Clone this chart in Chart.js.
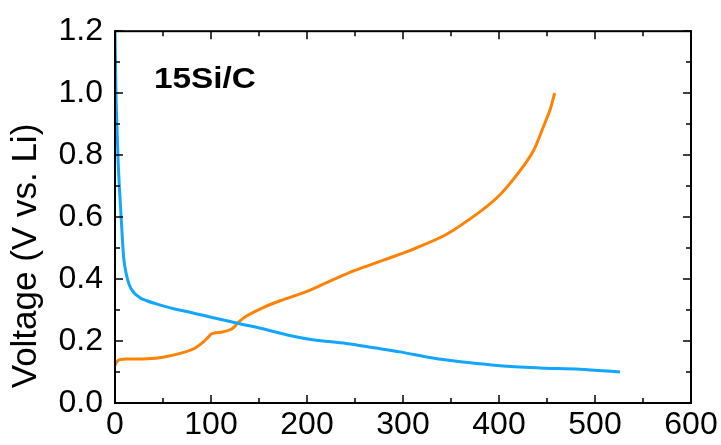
<!DOCTYPE html>
<html>
<head>
<meta charset="utf-8">
<script src="https://cdn.jsdelivr.net/npm/chart.js@4"></script>
<style>
   html, body { margin: 0; padding: 0; background: #fff; }
   #wrap { width: 721px; height: 445px; }
</style>
</head>
<body>
<div id="wrap"><canvas id="graph"></canvas></div>
<script>
// discharge curve (blue)
const dischargeCap = [0, 0.5, 1, 2, 3, 4.5, 6, 7.5, 9, 11.5, 15, 20, 26, 33, 43, 60, 78, 100, 130, 160, 182, 206, 241, 270, 297, 331, 360, 380, 401, 443, 484, 526];
const dischargeV = [1.2, 1.1, 1.0, 0.9, 0.8, 0.7, 0.62, 0.54, 0.47, 0.42, 0.38, 0.355, 0.34, 0.33, 0.32, 0.305, 0.293, 0.277, 0.256, 0.235, 0.218, 0.204, 0.192, 0.178, 0.165, 0.145, 0.133, 0.127, 0.12, 0.113, 0.109, 0.1];

// charge curve (orange)
const chargeCap = [0, 2, 5, 15, 33, 50, 68, 82, 92, 97, 101, 112, 121, 125, 129, 137, 155, 172, 200, 225, 250, 276, 300, 311, 345, 380, 401, 422, 436, 446, 453, 458];
const chargeV = [0.122, 0.133, 0.14, 0.142, 0.143, 0.148, 0.16, 0.175, 0.197, 0.212, 0.224, 0.229, 0.238, 0.248, 0.262, 0.281, 0.309, 0.33, 0.36, 0.395, 0.428, 0.457, 0.484, 0.497, 0.544, 0.617, 0.672, 0.75, 0.815, 0.89, 0.945, 1.0];

const xTicks = [0, 100, 200, 300, 400, 500, 600];
const yTicks = [0, 0.2, 0.4, 0.6, 0.8, 1.0, 1.2];
const yTitle = 'Voltage (V vs. Li)';
const sampleLabel = '15Si/C';

function toPoints(xs, ys) {
   return xs.map((x, i) => ({ x: x, y: ys[i] }));
}

// cadre + graduations vers l'interieur
const framePlugin = {
   id: 'frame',
   afterDatasetsDraw(chart) {
      const ctx = chart.ctx;
      const a = chart.chartArea;
      const sx = chart.scales.x;
      const sy = chart.scales.y;
      ctx.save();
      ctx.strokeStyle = '#000';
      ctx.lineWidth = 2;
      ctx.strokeRect(a.left, a.top, a.right - a.left, a.bottom - a.top);
      ctx.lineWidth = 1.5;
      ctx.beginPath();
      for (let v = 0; v <= 600; v += 50) {
         const px = Math.round(sx.getPixelForValue(v));
         const len = v % 100 === 0 ? 8 : 5;
         ctx.moveTo(px, a.bottom); ctx.lineTo(px, a.bottom - len);
         ctx.moveTo(px, a.top); ctx.lineTo(px, a.top + len);
      }
      for (let k = 0; k <= 12; k++) {
         const py = Math.round(sy.getPixelForValue(k / 10));
         const len = k % 2 === 0 ? 8 : 5;
         ctx.moveTo(a.left, py); ctx.lineTo(a.left + len, py);
         ctx.moveTo(a.right, py); ctx.lineTo(a.right - len, py);
      }
      ctx.stroke();

      // titre axe y
      ctx.fillStyle = '#000';
      ctx.font = '35px "Liberation Sans", Arial, sans-serif';
      ctx.textAlign = 'center';
      ctx.textBaseline = 'middle';
      ctx.translate(26, 256);
      ctx.rotate(-Math.PI / 2);
      ctx.fillText(yTitle, 0, 0);
      ctx.restore();

      // etiquette echantillon
      ctx.save();
      ctx.fillStyle = '#000';
      ctx.font = 'bold 29px "Liberation Sans", Arial, sans-serif';
      ctx.textAlign = 'left';
      ctx.textBaseline = 'alphabetic';
      ctx.translate(154, 88);
      ctx.scale(1.15, 1);
      ctx.fillText(sampleLabel, 0, 0);
      ctx.restore();
   }
};

const tickFont = { family: '"Liberation Sans", Arial, sans-serif', size: 32 };

new Chart(document.getElementById('graph'), {
   type: 'line',
   data: {
      datasets: [
         {
            label: 'discharge',
            data: toPoints(dischargeCap, dischargeV),
            borderColor: '#12a6ff',
            borderWidth: 3,
            pointRadius: 0,
            cubicInterpolationMode: 'monotone',
            fill: false
         },
         {
            label: 'charge',
            data: toPoints(chargeCap, chargeV),
            borderColor: '#ff8205',
            borderWidth: 3,
            pointRadius: 0,
            tension: 0.3,
            fill: false
         }
      ]
   },
   options: {
      responsive: true,
      maintainAspectRatio: false,
      animation: false,
      layout: { padding: { top: 29, right: 30, left: 0, bottom: 0 } },
      plugins: {
         legend: { display: false },
         tooltip: { enabled: false }
      },
      scales: {
         x: {
            type: 'linear',
            min: 0,
            max: 600,
            afterFit: (s) => { s.height = 42; },
            afterBuildTicks: (s) => { s.ticks = xTicks.map(v => ({ value: v })); },
            ticks: { font: tickFont, color: '#000', padding: 3, maxRotation: 0 },
            grid: { display: false, drawTicks: false },
            border: { display: false }
         },
         y: {
            type: 'linear',
            min: 0,
            max: 1.2,
            afterFit: (s) => { s.width = 115; },
            afterBuildTicks: (s) => { s.ticks = yTicks.map(v => ({ value: v })); },
            ticks: {
               font: tickFont,
               color: '#000',
               padding: 12,
               callback: (v) => v.toFixed(1)
            },
            grid: { display: false, drawTicks: false },
            border: { display: false }
         }
      }
   },
   plugins: [framePlugin]
});
</script>
</body>
</html>
